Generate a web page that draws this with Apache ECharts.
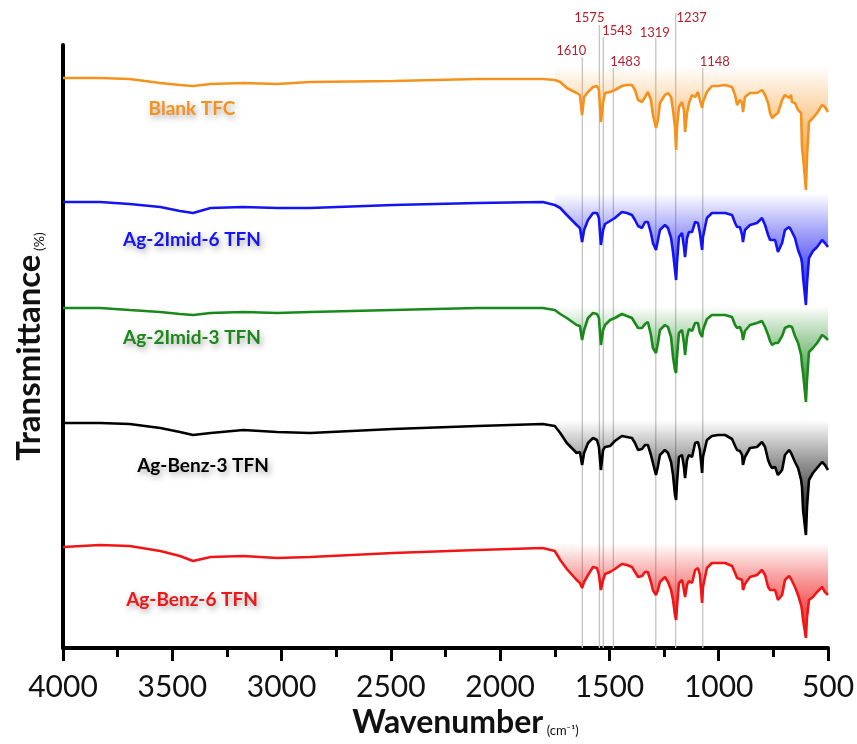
<!DOCTYPE html>
<html lang="en">
<head>
<meta charset="UTF-8" />
<title>FTIR spectra</title>
<style>
  html, body { margin: 0; padding: 0; background: #fff; }
  #main { width: 857px; height: 744px; }
</style>
</head>
<body>
<div id="main"></div>
<script src="https://cdn.jsdelivr.net/npm/echarts@6/dist/echarts.min.js"></script>
<script>
// wavenumber grid (cm-1), shared by all five spectra
const wavenumber = [4000, 3830, 3695, 3555, 3465, 3405, 3325, 3175, 3020, 2870, 2490, 2105, 1805, 1750,
  1725, 1695, 1650, 1635, 1625, 1616, 1598, 1575, 1557, 1548,
  1539, 1529, 1520, 1497, 1475, 1443, 1420, 1397, 1383, 1369,
  1351, 1337, 1324, 1310, 1301, 1287, 1278, 1269, 1246, 1232,
  1218, 1209, 1200, 1195, 1191, 1182, 1168, 1159, 1154, 1145,
  1136, 1122, 1108, 1095, 1086, 1076, 1072, 1054, 1031, 1003,
  971, 939, 925, 916, 903, 893, 889, 880, 857, 825,
  802, 788, 774, 765, 756, 742, 729, 710, 697, 678,
  669, 665, 651, 637, 623, 619, 614, 601, 596, 587,
  569, 550, 527, 514, 500];

// transmittance, already offset for stacking (arbitrary units)
const blankTFC = [570, 570, 569, 565, 563, 562, 564, 565, 564, 566, 567, 569, 569, 568,
  566, 560, 555, 553, 533, 551, 556, 561, 562, 558,
  526, 546, 555, 556, 558, 562, 563, 563, 558, 548,
  546, 551, 556, 548, 533, 520, 528, 545, 553, 555,
  551, 538, 521, 498, 521, 541, 546, 538, 516, 535,
  545, 553, 551, 556, 548, 540, 546, 556, 562, 562,
  563, 561, 553, 543, 548, 545, 536, 551, 555, 555,
  558, 553, 545, 535, 530, 533, 535, 548, 553, 550,
  553, 546, 545, 538, 535, 501, 491, 458, 491, 526,
  530, 535, 543, 541, 536];

const ag2Imid6 = [446, 446, 444, 441, 437, 435, 440, 441, 440, 440, 443, 445, 446, 443,
  440, 433, 423, 420, 406, 418, 428, 435, 435, 430,
  403, 418, 424, 427, 430, 436, 435, 433, 428, 422,
  420, 426, 426, 415, 405, 398, 408, 418, 423, 420,
  410, 396, 378, 368, 385, 411, 415, 401, 391, 410,
  416, 416, 426, 425, 415, 398, 411, 430, 435, 435,
  435, 433, 425, 421, 421, 413, 406, 418, 423, 425,
  430, 423, 413, 408, 406, 408, 396, 405, 418, 421,
  418, 420, 410, 398, 390, 385, 371, 343, 365, 390,
  397, 401, 408, 405, 401];

const ag2Imid3 = [340, 340, 338, 336, 334, 333, 335, 336, 335, 336, 338, 340, 340, 338,
  334, 330, 323, 322, 308, 318, 330, 335, 334, 330,
  303, 318, 323, 328, 330, 334, 332, 330, 325, 320,
  320, 324, 326, 313, 300, 295, 305, 318, 323, 321,
  311, 291, 278, 275, 291, 315, 318, 305, 293, 311,
  319, 317, 325, 325, 315, 311, 318, 329, 333, 333,
  333, 331, 323, 320, 321, 315, 308, 317, 323, 325,
  327, 321, 313, 307, 303, 305, 305, 312, 320, 322,
  320, 321, 312, 305, 293, 283, 275, 246, 268, 296,
  300, 305, 313, 311, 308];

const agBenz3 = [225, 225, 224, 220, 216, 213, 215, 218, 216, 215, 219, 222, 224, 222,
  215, 205, 195, 196, 183, 195, 205, 210, 208, 201,
  178, 198, 201, 202, 207, 212, 211, 210, 205, 198,
  199, 203, 203, 193, 185, 173, 182, 193, 198, 195,
  186, 173, 153, 148, 165, 191, 193, 181, 170, 188,
  193, 191, 205, 206, 198, 175, 191, 208, 212, 213,
  213, 209, 202, 198, 197, 193, 183, 191, 200, 201,
  206, 201, 188, 183, 180, 181, 173, 178, 193, 198,
  195, 193, 186, 180, 168, 161, 138, 113, 141, 168,
  175, 180, 186, 183, 178];

const agBenz6 = [101, 103, 102, 97, 92, 87, 91, 92, 90, 91, 95, 98, 100, 97,
  88, 79, 68, 65, 60, 66, 73, 81, 80, 73,
  58, 68, 74, 76, 79, 84, 83, 81, 76, 71,
  72, 76, 76, 66, 58, 53, 58, 66, 71, 66,
  58, 48, 33, 28, 41, 65, 68, 58, 51, 63,
  67, 65, 78, 80, 73, 45, 61, 80, 85, 85,
  85, 82, 75, 70, 69, 68, 58, 64, 71, 73,
  78, 73, 61, 58, 56, 58, 48, 53, 68, 72,
  69, 68, 61, 53, 43, 38, 28, 10, 31, 48,
  51, 56, 61, 56, 53];

const sampleNames = ['Blank TFC', 'Ag-2Imid-6 TFN', 'Ag-2Imid-3 TFN', 'Ag-Benz-3 TFN', 'Ag-Benz-6 TFN'];
const bandTop = [582, 455, 342, 228, 105];

// marked peaks
const peakLabels = ['1610', '1575', '1543', '1483', '1319', '1237', '1148'];
const peakWn = [1624, 1546, 1528, 1482, 1288, 1197, 1073];
const peakTop = [591, 623, 611, 580, 610, 635, 580];

const xTicks = [4000, 3500, 3000, 2500, 2000, 1500, 1000, 500];

// ---- styling ----
const colors = [[245, 146, 30], [20, 20, 240], [26, 136, 26], [0, 0, 0], [238, 22, 22]];
const labelPos = [[192, 109], [192, 240], [192, 338], [203, 466], [192, 600]];
const peakLabelOffset = [[-11, -6], [-10, -7], [14, -6], [12, -6], [-1, -5], [16, 5], [12, -6]];

const spectra = [blankTFC, ag2Imid6, ag2Imid3, agBenz3, agBenz6];
const rgba = (c, a) => `rgba(${c[0]},${c[1]},${c[2]},${a})`;

const series = [];

// grey peak guide lines + labels
series.push({
  type: 'custom',
  clip: false,
  silent: true,
  z: 1,
  data: peakWn.map((w, i) => [w, peakTop[i], i]),
  renderItem: function (params, api) {
    const i = api.value(2);
    const p0 = api.coord([api.value(0), 0]);
    const p1 = api.coord([api.value(0), api.value(1)]);
    const off = peakLabelOffset[i];
    return {
      type: 'group',
      children: [
        { type: 'line', shape: { x1: p0[0], y1: p0[1], x2: p1[0], y2: p1[1] },
          style: { stroke: '#c4c4c4', lineWidth: 1.3 } },
        { type: 'text', x: p1[0] + off[0], y: p1[1] + off[1],
          style: { text: peakLabels[i], fill: '#b51f2c', fontSize: 13, fontFamily: 'Lato',
                   align: 'center', verticalAlign: 'middle' } }
      ]
    };
  }
});

spectra.forEach((vals, k) => {
  const pts = wavenumber.map((w, i) => [w, vals[i]]);
  const c = colors[k];
  // shaded fingerprint band
  series.push({
    type: 'line',
    name: sampleNames[k] + ' band',
    data: pts.slice(13),
    symbol: 'none',
    silent: true,
    z: 2,
    lineStyle: { width: 0, opacity: 0 },
    areaStyle: {
      origin: bandTop[k],
      opacity: 1,
      color: {
        type: 'linear', x: 0, y: 0, x2: 0, y2: 1,
        colorStops: [
          { offset: 0, color: rgba(c, 0.0) },
          { offset: 0.35, color: rgba(c, 0.4) },
          { offset: 0.7, color: rgba(c, 0.75) },
          { offset: 1, color: rgba(c, 0.9) }
        ]
      }
    }
  });
  series.push({
    type: 'line',
    name: sampleNames[k],
    data: pts,
    symbol: 'none',
    z: 3,
    lineStyle: { width: 2.6, color: rgba(c, 1) }
  });
});

const graphics = sampleNames.map((name, k) => ({
  type: 'text',
  x: labelPos[k][0],
  y: labelPos[k][1],
  style: {
    text: name,
    fill: rgba(colors[k], 1),
    fontSize: 19,
    fontWeight: 'bold',
    fontFamily: 'Lato',
    align: 'center',
    verticalAlign: 'middle',
    textShadowColor: 'rgba(0,0,0,0.35)',
    textShadowBlur: 6,
    textShadowOffsetX: 2,
    textShadowOffsetY: 3
  }
}));

const chart = echarts.init(document.getElementById('main'));
chart.setOption({
  animation: false,
  backgroundColor: '#fff',
  grid: { left: 63, right: 29, top: 45, bottom: 96, outerBoundsMode: 'none', containLabel: false },
  xAxis: {
    type: 'value',
    inverse: true,
    min: 500,
    max: 4000,
    interval: 500,
    name: '{p| }{a|Wavenumber}{b| (cm\u207B\u00B9)}',
    nameLocation: 'middle',
    nameGap: 58,
    nameTextStyle: {
      rich: {
        p: { width: 40 },
        a: { fontSize: 32, fontFamily: 'Lato', color: '#111', fontWeight: 'bold' },
        b: { fontSize: 13, fontFamily: 'Lato', color: '#111', verticalAlign: 'bottom', padding: [0, 0, 2, 0] }
      }
    },
    axisLine: { onZero: false, lineStyle: { color: '#000', width: 4 } },
    axisTick: { length: 13, lineStyle: { color: '#000', width: 3 } },
    minorTick: { show: true, splitNumber: 2, length: 9, lineStyle: { color: '#000', width: 3 } },
    splitLine: { show: false },
    axisLabel: {
      fontSize: 30, fontFamily: 'Lato', color: '#111', margin: 24,
      formatter: v => xTicks.indexOf(v) >= 0 ? String(v) : ''
    }
  },
  yAxis: {
    type: 'value',
    min: 0,
    max: 603,
    name: '{a|Transmittance}{b| (%)}',
    nameLocation: 'middle',
    nameRotate: 90,
    nameGap: 17,
    nameTextStyle: {
      rich: {
        a: { fontSize: 33, fontFamily: 'Lato', color: '#111', fontWeight: 'bold' },
        b: { fontSize: 14, fontFamily: 'Lato', color: '#111', verticalAlign: 'bottom' }
      }
    },
    axisLine: { show: true, lineStyle: { color: '#000', width: 4 } },
    axisTick: { show: false },
    axisLabel: { show: false },
    splitLine: { show: false }
  },
  graphic: graphics,
  series: series
});
</script>
</body>
</html>
